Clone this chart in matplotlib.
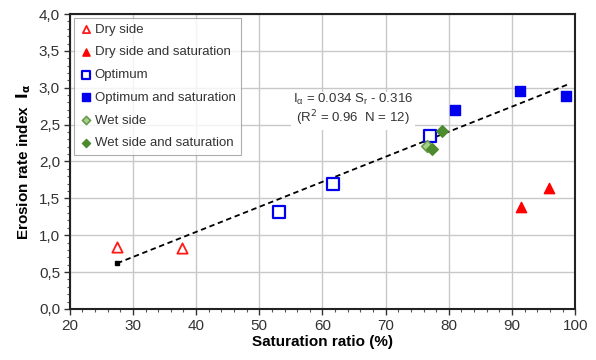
import matplotlib.pyplot as plt
import numpy as np
from matplotlib.ticker import MultipleLocator, FuncFormatter

plt.rcParams['font.family'] = ['Liberation Sans', 'DejaVu Sans']

# saturation ratio (%) and erosion rate index
dry_x = [27.5, 37.8]
dry_y = [0.84, 0.82]
dry_sat_x = [91.4, 95.8]
dry_sat_y = [1.38, 1.64]
opt_x = [53.2, 61.6, 77.0]
opt_y = [1.32, 1.70, 2.35]
opt_sat_x = [81.0, 91.3, 98.5]
opt_sat_y = [2.70, 2.96, 2.89]
wet_x = [76.6]
wet_y = [2.21]
wet_sat_x = [77.4, 79.0]
wet_sat_y = [2.17, 2.42]

slope = 0.034
intercept = -0.316
fit_range = [27.5, 98.7]

fig = plt.figure(figsize=(5.96, 3.6), dpi=100)
ax = fig.add_axes([0.117, 0.142, 0.848, 0.819])

ax.grid(True, which='major', color='#c8c8c8', linewidth=1.0, zorder=0)

ax.scatter(dry_x, dry_y, marker='^', s=55, facecolors='white', edgecolors='#ff1a1a', linewidths=1.3, label='Dry side', zorder=3)
ax.scatter(dry_sat_x, dry_sat_y, marker='^', s=55, color='#ff0000', label='Dry side and saturation', zorder=3)
ax.scatter(opt_x, opt_y, marker='s', s=70, facecolors='white', edgecolors='#0000ee', linewidths=1.6, label='Optimum', zorder=3)
ax.scatter(opt_sat_x, opt_sat_y, marker='s', s=60, color='#0000ee', label='Optimum and saturation', zorder=3)
ax.scatter(wet_x, wet_y, marker='D', s=35, facecolors='#a8d08d', edgecolors='#6a9b4a', linewidths=1.2, label='Wet side', zorder=3)
ax.scatter(wet_sat_x, wet_sat_y, marker='D', s=35, color='#4e8a2e', label='Wet side and saturation', zorder=3)

fx = np.array(fit_range)
ax.plot(fx, slope * fx + intercept, linestyle=(0, (3, 2)), color='black', linewidth=1.3, zorder=2)
ax.plot(fx[:1], slope * fx[:1] + intercept, marker='s', markersize=2.5, color='black', zorder=2)

ax.text(64.8, 2.70, '$\\mathregular{I_\\alpha}$ = 0.034 $\\mathregular{S_r}$ - 0.316\n(R$^2$ = 0.96  N = 12)',
        ha='center', va='center', fontsize=9.5, color='#333333', linespacing=1.05,
        bbox=dict(facecolor='white', edgecolor='none', pad=1.5), zorder=2.5)

ax.set_xlim(20, 100)
ax.set_ylim(0, 4)
ax.xaxis.set_major_locator(MultipleLocator(10))
ax.xaxis.set_minor_locator(MultipleLocator(2))
ax.yaxis.set_major_locator(MultipleLocator(0.5))
ax.yaxis.set_minor_locator(MultipleLocator(0.1))
ax.yaxis.set_major_formatter(FuncFormatter(lambda v, p: ('%.1f' % v).replace('.', ',')))
ax.tick_params(which='major', length=4, width=1, labelsize=11, colors='#333333', pad=3)
ax.tick_params(which='minor', length=2.5, width=0.8, colors='#555555')
for sp in ax.spines.values():
    sp.set_linewidth(1.5)
    sp.set_color('#222222')

ax.set_xlabel('Saturation ratio (%)', fontsize=11, fontweight='bold', labelpad=2)
ax.set_ylabel('Erosion rate index  $\\mathbf{I_\\alpha}$', fontsize=11, fontweight='bold', labelpad=4)

leg = ax.legend(loc='upper left', fontsize=9.5, frameon=True, fancybox=False, edgecolor='#999999',
                borderaxespad=0.3, handletextpad=0.2, labelspacing=0.8, handlelength=1.0,
                borderpad=0.4, scatterpoints=1, markerscale=0.7)
leg.get_frame().set_linewidth(0.8)
for t in leg.get_texts():
    t.set_color('#333333')

fig.savefig('out.png', dpi=100)
